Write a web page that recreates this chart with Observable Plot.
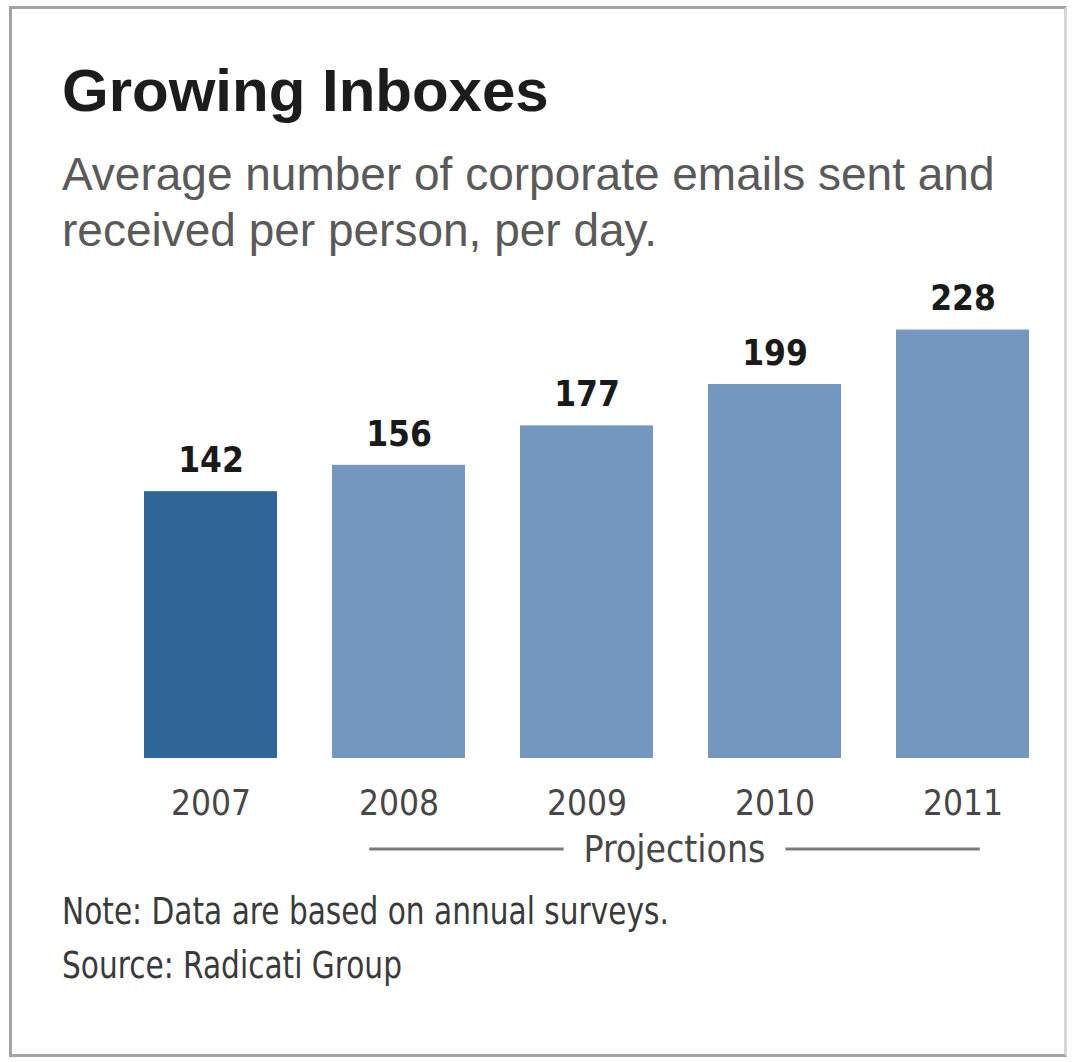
<!DOCTYPE html>
<html><head><meta charset="utf-8">
<script src="https://cdn.jsdelivr.net/npm/d3@7"></script>
<script src="https://cdn.jsdelivr.net/npm/@observablehq/plot@0.6"></script>
<style>
body{margin:0;background:#fff;}
#wrap{position:relative;width:1075px;height:1062px;overflow:hidden;background:#fff;}
#frame{position:absolute;left:9px;top:6px;width:1058px;height:1051px;border:3px solid #a3a3a3;border-right-color:#d6d6d6;box-sizing:border-box;}
.t{position:absolute;left:62px;white-space:nowrap;margin:0;}
#title{top:61px;font:bold 60px/60px "Liberation Sans",Arial,sans-serif;color:#1c1c1c;}
#sub{top:146px;font:46px/56px "Liberation Sans",Arial,sans-serif;color:#5a5a5a;}
#notes{top:885px;font:37px/54px "Liberation Sans Narrow","DejaVu Sans Condensed",sans-serif;color:#3a3a3a;transform:scaleX(0.89);transform-origin:0 0;}
#chart{position:absolute;left:0;top:260px;}
</style>
</head><body>
<div id="wrap">
<div id="frame"></div>
<div class="t" id="title"></div>
<div class="t" id="sub"></div>
<div id="chart"></div>
<div class="t" id="notes"></div>
</div>
<script>
const titleText = "Growing Inboxes";
const subtitleLines = ["Average number of corporate emails sent and", "received per person, per day."];
const noteLines = ["Note: Data are based on annual surveys.", "Source: Radicati Group"];
const years = ["2007", "2008", "2009", "2010", "2011"];
const emails = [142, 156, 177, 199, 228];
const projected = [false, true, true, true, true];
const projectionLabel = "Projections";

document.getElementById("title").textContent = titleText;
document.getElementById("sub").innerHTML = subtitleLines.join("<br>");
document.getElementById("notes").innerHTML = noteLines.join("<br>");

const data = years.map((y, i) => ({year: y, value: emails[i], projected: projected[i]}));
const narrow = '"Liberation Sans Narrow","DejaVu Sans Condensed",sans-serif';

const chart = Plot.plot({
  width: 1075,
  height: 620,
  marginLeft: 143,
  marginRight: 45,
  marginTop: 0,
  marginBottom: 122,
  x: {domain: years, paddingInner: 0.29, paddingOuter: 0},
  y: {domain: [0, 265], axis: null},
  color: {type: "ordinal", domain: [false, true], range: ["#2f6699", "#7397be"]},
  style: {fontFamily: narrow, background: "transparent", overflow: "visible"},
  marks: [
    Plot.barY(data, {x: "year", y: "value", fill: "projected"}),
    Plot.text(data, {x: "year", y: "value", text: d => String(d.value), dy: -31, fontSize: 35, fontWeight: "bold", fill: "#1a1a1a"}),
    Plot.axisX({tickSize: 0, tickPadding: 32, fontSize: 35, fill: "#474747", label: null})
  ]
});
document.getElementById("chart").appendChild(chart);

// Projections bracket positioned from the x scale
const xs = chart.scale("x");
const bw = xs.bandwidth;
const projYears = years.filter((y, i) => projected[i]);
const xa = xs.apply(projYears[0]) + 0.28 * bw;
const xb = xs.apply(projYears[projYears.length - 1]) + 0.63 * bw;
const yLine = 589;
const svg = d3.select(chart);
const g = svg.append("g");
const txt = g.append("text")
  .attr("x", (xa + xb) / 2).attr("y", yLine).attr("dy", "0.35em")
  .attr("text-anchor", "middle")
  .attr("font-family", narrow).attr("font-size", 37).attr("fill", "#474747")
  .text(projectionLabel);
const tw = txt.node().getComputedTextLength();
const gap = 20;
g.append("line").attr("x1", xa).attr("x2", (xa + xb) / 2 - tw / 2 - gap)
  .attr("y1", yLine).attr("y2", yLine).attr("stroke", "#7a7a7a").attr("stroke-width", 3);
g.append("line").attr("x1", (xa + xb) / 2 + tw / 2 + gap).attr("x2", xb)
  .attr("y1", yLine).attr("y2", yLine).attr("stroke", "#7a7a7a").attr("stroke-width", 3);
</script>
</body></html>
